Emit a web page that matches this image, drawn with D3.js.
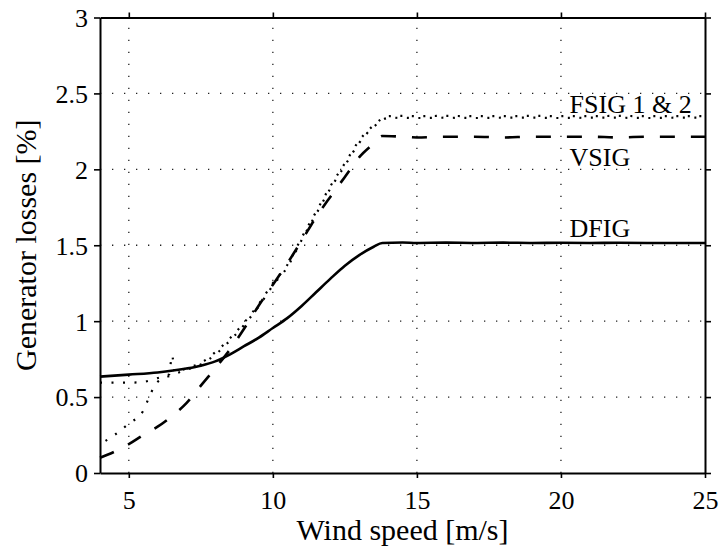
<!DOCTYPE html>
<html>
<head>
<meta charset="utf-8">
<script src="https://cdn.jsdelivr.net/npm/d3@7"></script>
<style>
  html, body { margin: 0; padding: 0; background: #fff; }
  svg { display: block; font-family: "Liberation Serif", "Times New Roman", serif; }
</style>
</head>
<body>
<script>
// ---- data ----
const xTicks = [5, 10, 15, 20, 25];
const yTicks = [0, 0.5, 1, 1.5, 2, 2.5, 3];
const xGrid = [5, 10, 15, 20];
const yGrid = [0.5, 1, 1.5, 2, 2.5];

const windDFIG = [4, 5, 6, 7, 7.5, 8, 8.5, 9, 9.5, 10, 10.5, 11, 11.5, 12, 12.5, 13, 13.5, 13.8, 14.5, 15, 16, 17, 18, 19, 20, 21, 22, 23, 24, 25];
const lossDFIG = [0.635, 0.648, 0.662, 0.688, 0.707, 0.735, 0.78, 0.835, 0.89, 0.955, 1.02, 1.10, 1.19, 1.28, 1.365, 1.435, 1.49, 1.515, 1.518, 1.515, 1.517, 1.515, 1.517, 1.515, 1.516, 1.515, 1.516, 1.515, 1.515, 1.515];

const windVSIG = [4, 4.5, 5, 5.5, 6, 6.5, 7, 7.5, 8, 8.5, 9, 9.5, 10, 10.5, 11, 11.5, 12, 12.5, 13, 13.5, 13.8, 14.5, 15, 16, 17, 18, 19, 20, 21, 22, 23, 24, 25];
const lossVSIG = [0.10, 0.14, 0.19, 0.25, 0.305, 0.375, 0.46, 0.575, 0.69, 0.81, 0.95, 1.10, 1.24, 1.38, 1.53, 1.685, 1.82, 1.95, 2.08, 2.17, 2.22, 2.215, 2.21, 2.215, 2.215, 2.21, 2.215, 2.215, 2.215, 2.21, 2.215, 2.215, 2.215];

const windFSIG1 = [4, 4.5, 5, 5.5, 6, 6.4, 6.5, 6.6, 7, 7.5, 8, 8.5, 9, 9.5, 10, 10.5, 11, 11.5, 12, 12.5, 13, 13.5, 14, 14.5, 15, 16, 17, 18, 19, 20, 21, 22, 23, 24, 25];
const lossFSIG1 = [0.595, 0.595, 0.595, 0.60, 0.625, 0.65, 0.775, 0.665, 0.69, 0.725, 0.795, 0.885, 0.99, 1.11, 1.25, 1.37, 1.55, 1.72, 1.89, 2.04, 2.19, 2.29, 2.35, 2.352, 2.35, 2.352, 2.35, 2.35, 2.352, 2.35, 2.35, 2.352, 2.35, 2.35, 2.35];

const windFSIG2 = [4, 4.5, 5, 5.5, 5.75, 6, 6.5, 7, 7.5, 8, 8.5, 9, 9.5, 10, 10.5, 11, 11.5, 12, 12.5, 13, 13.5, 14, 14.5, 15, 16, 17, 18, 19, 20, 21, 22, 23, 24, 25];
const lossFSIG2 = [0.19, 0.25, 0.325, 0.41, 0.52, 0.60, 0.645, 0.68, 0.715, 0.78, 0.87, 0.975, 1.095, 1.235, 1.355, 1.535, 1.705, 1.875, 2.025, 2.175, 2.28, 2.338, 2.34, 2.338, 2.34, 2.338, 2.34, 2.34, 2.338, 2.34, 2.34, 2.338, 2.34, 2.34];

const seriesLabels = [
  { text: "FSIG 1 & 2", wind: 20.3, loss: 2.37 },
  { text: "VSIG", wind: 20.3, loss: 2.02 },
  { text: "DFIG", wind: 20.3, loss: 1.555 }
];

// ---- chart ----
const W = 720, H = 548;
const svg = d3.select("body").append("svg").attr("width", W).attr("height", H);

const x = d3.scaleLinear().domain([4, 25]).range([100, 705]);
const y = d3.scaleLinear().domain([0, 3]).range([473, 17.5]);

// grid
const grid = svg.append("g").attr("stroke", "#222").attr("stroke-width", 1.3).attr("stroke-dasharray", "1.3,10.7");
grid.selectAll("line.vx").data(xGrid).join("line")
  .attr("x1", d => x(d)).attr("x2", d => x(d))
  .attr("y1", y(0)).attr("y2", y(3));
grid.selectAll("line.hy").data(yGrid).join("line")
  .attr("class", "hy")
  .attr("y1", d => y(d)).attr("y2", d => y(d))
  .attr("x1", x(4)).attr("x2", x(25));

// lines
const mk = (ws, ls) => ws.map((w, i) => [w, ls[i]]);
const line = d3.line().x(d => x(d[0])).y(d => y(d[1])).curve(d3.curveMonotoneX);

svg.append("path").datum(mk(windDFIG, lossDFIG)).attr("d", line)
  .attr("fill", "none").attr("stroke", "#000").attr("stroke-width", 2.6);

svg.append("path").datum(mk(windVSIG, lossVSIG)).attr("d", line)
  .attr("fill", "none").attr("stroke", "#000").attr("stroke-width", 2.6)
  .attr("stroke-dasharray", "15,16");

svg.append("path").datum(mk(windFSIG1, lossFSIG1)).attr("d", line)
  .attr("fill", "none").attr("stroke", "#000").attr("stroke-width", 2.2)
  .attr("stroke-dasharray", "2,9.5");

svg.append("path").datum(mk(windFSIG2, lossFSIG2)).attr("d", line)
  .attr("fill", "none").attr("stroke", "#000").attr("stroke-width", 2.2)
  .attr("stroke-dasharray", "2,9.5").attr("stroke-dashoffset", 5);

// axes
const fmt = d => String(d);
function styleAxis(g) {
  g.select(".domain").attr("stroke", "#000").attr("stroke-width", 2);
  g.selectAll(".tick line").attr("stroke", "#000").attr("stroke-width", 1.6);
  g.selectAll(".tick text").attr("fill", "#000").style("font-size", "26px")
    .style("font-family", '"Liberation Serif", "Times New Roman", serif');
}
const gB = svg.append("g").attr("transform", `translate(0,${y(0)})`)
  .call(d3.axisBottom(x).tickValues(xTicks).tickFormat(fmt).tickSize(5).tickSizeOuter(0).tickPadding(12));
styleAxis(gB);
gB.selectAll(".tick text").attr("dy", null).attr("y", 36);

const gT = svg.append("g").attr("transform", `translate(0,${y(3)})`)
  .call(d3.axisTop(x).tickValues(xTicks).tickFormat("").tickSize(5).tickSizeOuter(0));
styleAxis(gT);

const gL = svg.append("g").attr("transform", `translate(${x(4)},0)`)
  .call(d3.axisLeft(y).tickValues(yTicks).tickFormat(fmt).tickSize(6).tickSizeOuter(0).tickPadding(6));
styleAxis(gL);
gL.selectAll(".tick text").attr("dy", "0.34em");

const gR = svg.append("g").attr("transform", `translate(${x(25)},0)`)
  .call(d3.axisRight(y).tickValues(yTicks).tickFormat("").tickSize(6).tickSizeOuter(0));
styleAxis(gR);

// series labels
svg.append("g").selectAll("text").data(seriesLabels).join("text")
  .attr("x", d => x(d.wind)).attr("y", d => y(d.loss))
  .style("font-size", "26px").attr("fill", "#000")
  .text(d => d.text);

// axis titles
svg.append("text").attr("x", (x(4) + x(25)) / 2).attr("y", 540)
  .attr("text-anchor", "middle").style("font-size", "30px").text("Wind speed [m/s]");
svg.append("text").attr("transform", `translate(36,${(y(0) + y(3)) / 2}) rotate(-90)`)
  .attr("text-anchor", "middle").style("font-size", "30px").text("Generator losses [%]");
</script>
</body>
</html>
